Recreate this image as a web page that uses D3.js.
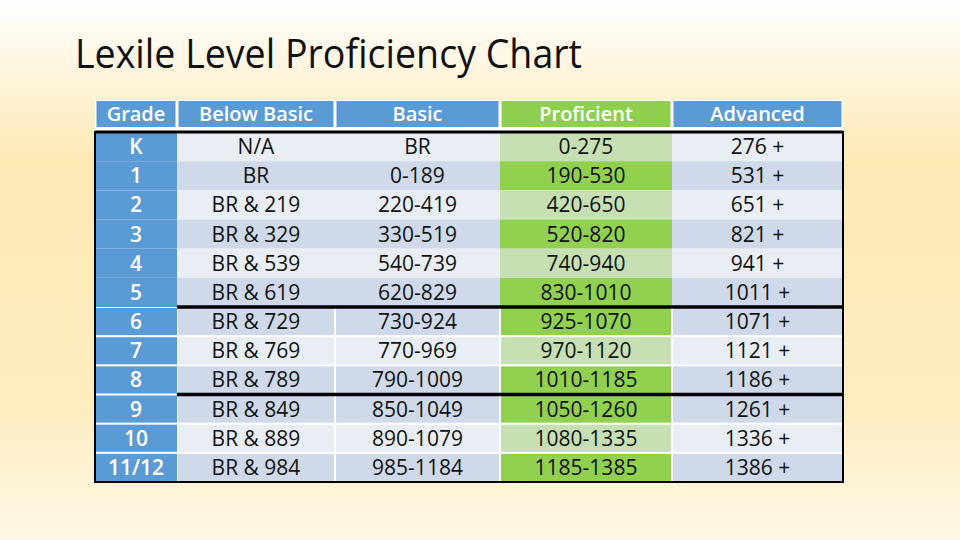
<!DOCTYPE html>
<html>
<head>
<script src="https://d3js.org/d3.v7.min.js"></script>
<style>
  body { margin: 0; }
  text { font-family: "Open Sans", "DejaVu Sans", sans-serif; }
</style>
</head>
<body>
<script>
var title = "Lexile Level Proficiency Chart";
var headers = ["Grade", "Below Basic", "Basic", "Proficient", "Advanced"];
var grades = ["K", "1", "2", "3", "4", "5", "6", "7", "8", "9", "10", "11/12"];
var belowBasic = ["N/A", "BR", "BR & 219", "BR & 329", "BR & 539", "BR & 619", "BR & 729", "BR & 769", "BR & 789", "BR & 849", "BR & 889", "BR & 984"];
var basic = ["BR", "0-189", "220-419", "330-519", "540-739", "620-829", "730-924", "770-969", "790-1009", "850-1049", "890-1079", "985-1184"];
var proficient = ["0-275", "190-530", "420-650", "520-820", "740-940", "830-1010", "925-1070", "970-1120", "1010-1185", "1050-1260", "1080-1335", "1185-1385"];
var advanced = ["276 +", "531 +", "651 +", "821 +", "941 +", "1011 +", "1071 +", "1121 +", "1186 +", "1261 +", "1336 +", "1386 +"];
// shade: 0 light, 1 dark
var shade = [0, 1, 0, 1, 0, 1, 1, 0, 1, 1, 0, 1];
var blockBreaks = [6, 9];

var width = 960, height = 540;
var svg = d3.select("body").append("svg").attr("width", width).attr("height", height);

var defs = svg.append("defs");
var grad = defs.append("linearGradient").attr("id", "bg").attr("x1", 0).attr("y1", 0).attr("x2", 0).attr("y2", 1);
grad.append("stop").attr("offset", "0%").attr("stop-color", "#ffffff");
grad.append("stop").attr("offset", "30%").attr("stop-color", "#fde9b4");
grad.append("stop").attr("offset", "75%").attr("stop-color", "#fdedc0");
grad.append("stop").attr("offset", "100%").attr("stop-color", "#fef8e6");
svg.append("rect").attr("width", width).attr("height", height).attr("fill", "url(#bg)");

svg.append("text").attr("x", 75).attr("y", 68)
  .attr("font-size", 41).attr("fill", "#111")
  .attr("textLength", 507).attr("lengthAdjust", "spacingAndGlyphs")
  .text(title);

var colEdges = [95, 177, 335, 500, 672, 843];
var x0 = d3.scaleOrdinal().domain(d3.range(5)).range(colEdges.slice(0, 5));
var x1 = d3.scaleOrdinal().domain(d3.range(5)).range(colEdges.slice(1));
var y = d3.scaleLinear().domain([0, grades.length]).range([132, 482]);

var columns = [grades, belowBasic, basic, proficient, advanced];

// white underlay for header and body
svg.append("rect").attr("x", colEdges[0]).attr("y", 100)
  .attr("width", colEdges[5] - colEdges[0]).attr("height", y(grades.length) - 100)
  .attr("fill", "#fff");

// header
var hdr = svg.append("g");
headers.forEach(function(h, c) {
  hdr.append("rect").attr("x", x0(c) + 1.5).attr("y", 101)
    .attr("width", x1(c) - x0(c) - 3).attr("height", 26)
    .attr("fill", c === 3 ? "#8fcf4e" : "#5b9bd5");
  hdr.append("text").attr("x", (x0(c) + x1(c)) / 2).attr("y", 121)
    .attr("text-anchor", "middle").attr("font-size", 20).attr("fill", "#fff")
    .attr("font-weight", 600).text(h);
});

// body cells
var body = svg.append("g");
grades.forEach(function(g, r) {
  var sep = r >= 6 ? 1 : 0;
  columns.forEach(function(col, c) {
    var fill;
    if (c === 0) fill = "#5b9bd5";
    else if (c === 3) fill = shade[r] ? "#92d050" : "#c6e0b4";
    else fill = shade[r] ? "#cfd9ea" : "#e9edf4";
    body.append("rect")
      .attr("x", x0(c) + (c > 0 ? sep : 0)).attr("y", y(r) + sep)
      .attr("width", x1(c) - x0(c) - (c > 0 ? 2 * sep : 0))
      .attr("height", y(r + 1) - y(r) - 2 * sep)
      .attr("fill", fill);
    body.append("text").attr("x", (x0(c) + x1(c)) / 2).attr("y", y(r) + 22)
      .attr("text-anchor", "middle").attr("font-size", 21)
      .attr("fill", c === 0 ? "#fff" : "#111")
      .attr("font-weight", c === 0 ? 600 : 400)
      .text(col[r]);
  });
});

// borders
svg.append("rect").attr("x", colEdges[0]).attr("y", y(0))
  .attr("width", colEdges[5] - colEdges[0]).attr("height", y(grades.length) - y(0))
  .attr("fill", "none").attr("stroke", "#000").attr("stroke-width", 2);
svg.append("line").attr("x1", colEdges[0]).attr("x2", colEdges[5]).attr("y1", y(0)).attr("y2", y(0))
  .attr("stroke", "#000").attr("stroke-width", 3);
blockBreaks.forEach(function(b) {
  svg.append("line").attr("x1", colEdges[1]).attr("x2", colEdges[5]).attr("y1", y(b)).attr("y2", y(b))
    .attr("stroke", "#000").attr("stroke-width", 3.5);
});
</script>
</body>
</html>
